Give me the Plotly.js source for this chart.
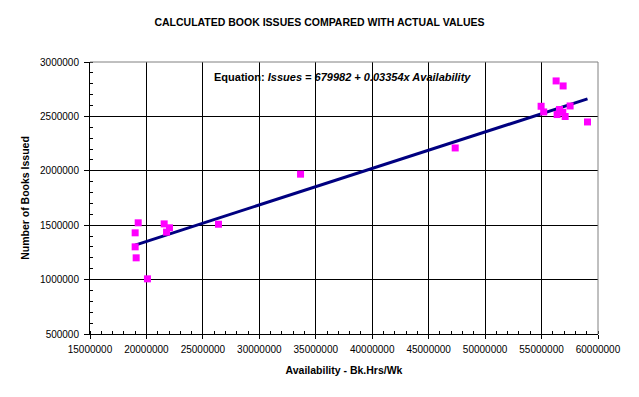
<!DOCTYPE html>
<html>
<head>
<meta charset="utf-8">
<script src="https://cdn.plot.ly/plotly-3.0.1.min.js"></script>
<style>html,body{margin:0;padding:0;background:#fff;}#chart{width:639px;height:397px;}</style>
</head>
<body>
<div id="chart"></div>
<script>
// Availability (Bk.Hrs/Wk) and actual book issues
var availability = [19.27e6, 19.0e6, 19.0e6, 19.09e6, 20.09e6, 21.57e6, 22.04e6, 21.78e6, 26.38e6,
  33.65e6, 47.35e6,
  56.29e6, 56.91e6, 54.96e6, 55.19e6, 56.59e6, 56.38e6, 56.88e6, 57.09e6, 57.53e6, 59.07e6];
var issues = [1522000, 1430000, 1301000, 1200000, 1007000, 1512000, 1476000, 1436000, 1509000,
  1969000, 2210000,
  2826000, 2780000, 2593000, 2541000, 2563000, 2517000, 2538000, 2499000, 2596000, 2449000];
// regression equation shown on the chart
var intercept = 679982;
var slope = 0.03354;
var xTicks = [15000000, 20000000, 25000000, 30000000, 35000000, 40000000, 45000000, 50000000, 55000000, 60000000];
var yTicks = [500000, 1000000, 1500000, 2000000, 2500000, 3000000];

var xMin = Math.min.apply(null, availability);
var xMax = Math.max.apply(null, availability);
var fitX = [xMin, xMax];
var fitY = fitX.map(function (v) { return intercept + slope * v; });

var FONT = 'Liberation Sans, Arial, sans-serif';

var traces = [
  {x: fitX, y: fitY, mode: 'lines', type: 'scatter', line: {color: '#000080', width: 3}, hoverinfo: 'skip'},
  {x: availability, y: issues, mode: 'markers', type: 'scatter',
   marker: {symbol: 'square', size: 7, color: '#FF00FF', line: {width: 0}}}
];

var layout = {
  width: 639, height: 397,
  margin: {l: 90, r: 41, t: 62, b: 63},
  paper_bgcolor: '#ffffff', plot_bgcolor: '#ffffff',
  showlegend: false,
  font: {family: FONT, size: 10, color: '#000'},
  title: {text: '<b>CALCULATED BOOK ISSUES COMPARED WITH ACTUAL VALUES</b>',
    font: {family: FONT, size: 10.5, color: '#000'}, x: 0.5, xanchor: 'center', y: 0.945, yanchor: 'middle'},
  xaxis: {
    range: [15000000, 60000000], tickvals: xTicks, ticktext: xTicks.map(String),
    showgrid: true, gridcolor: '#000', gridwidth: 1, zeroline: false,
    showline: true, linecolor: '#000', linewidth: 1,
    ticks: 'outside', ticklen: 4, tickcolor: '#000',
    minor: {dtick: 1000000, ticks: 'inside', ticklen: 3, tickcolor: '#000', showgrid: false},
    tickfont: {family: FONT, size: 10, color: '#000'},
    ticklabelstandoff: 2,
    title: {text: '<b>Availability - Bk.Hrs/Wk</b>', font: {family: FONT, size: 10.5, color: '#000'}, standoff: 12}
  },
  yaxis: {
    range: [500000, 3000000], tickvals: yTicks, ticktext: yTicks.map(String),
    showgrid: true, gridcolor: '#000', gridwidth: 1, zeroline: false,
    showline: true, linecolor: '#000', linewidth: 1,
    ticks: 'outside', ticklen: 5, tickcolor: '#000',
    minor: {dtick: 100000, ticks: 'inside', ticklen: 3, tickcolor: '#000', showgrid: false},
    tickfont: {family: FONT, size: 10, color: '#000'},
    ticklabelstandoff: 3,
    title: {text: '<b>Number of Books Issued</b>', font: {family: FONT, size: 10.5, color: '#000'}, standoff: 8}
  },
  shapes: [
    {type: 'line', xref: 'paper', yref: 'paper', x0: 0, x1: 1, y0: 1, y1: 1, line: {color: '#808080', width: 1}},
    {type: 'line', xref: 'paper', yref: 'paper', x0: 1, x1: 1, y0: 0, y1: 1, line: {color: '#808080', width: 1}}
  ],
  annotations: [
    {xref: 'paper', yref: 'paper', x: 0.497, y: 0.944, xanchor: 'center', yanchor: 'middle', showarrow: false,
     text: '<b>Equation: <i>Issues = ' + intercept + ' + ' + slope + 'x Availability</i></b>',
     font: {family: FONT, size: 11, color: '#000'}}
  ]
};

Plotly.newPlot('chart', traces, layout, {displayModeBar: false, staticPlot: true});
</script>
</body>
</html>
